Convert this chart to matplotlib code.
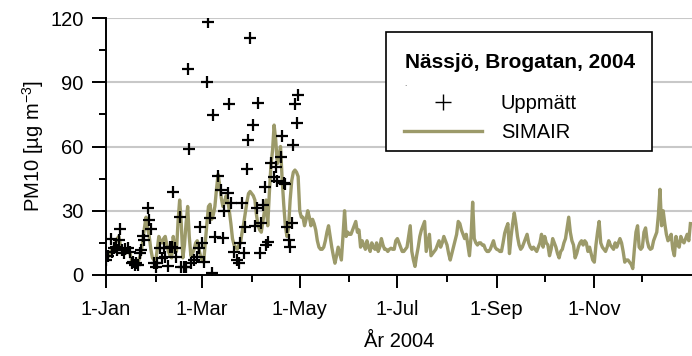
import matplotlib
matplotlib.use('Agg')
import matplotlib.pyplot as plt
from matplotlib.lines import Line2D
from matplotlib.patches import Rectangle
import pandas as pd

plt.rcParams['font.family'] = ['Liberation Sans', 'DejaVu Sans']
plt.rcParams['mathtext.fontset'] = 'custom'
plt.rcParams['mathtext.rm'] = 'Liberation Sans'
plt.rcParams['mathtext.it'] = 'Liberation Sans:italic'
plt.rcParams['mathtext.bf'] = 'Liberation Sans:bold'

# SIMAIR modelled daily PM10, 1 Jan - 31 Dec 2004
simair = [
    7, 8, 10, 11, 12, 13, 15, 17, 18, 14,
    12, 10, 10, 12, 12.5, 10, 7, 6, 5.5, 6,
    6, 8, 11, 16, 22, 27, 22, 18, 12, 8,
    7, 6, 12, 18, 16, 15, 17, 18, 14, 11,
    9, 8, 18, 12, 11, 25, 35, 24, 8, 14,
    24, 32, 18, 9, 10, 12, 15, 16, 12, 9,
    7, 6, 15, 24, 32, 33, 26, 28, 32, 40,
    47, 42, 36, 32, 34, 37, 35, 30, 24, 17,
    14, 13, 12, 14, 15, 20, 24, 29, 34, 38,
    39, 38, 37, 35, 28, 23, 21, 20, 25, 30,
    35, 23, 38, 51, 58, 70, 63, 52, 55, 60,
    45, 33, 23, 18, 22, 35, 44, 48, 49, 48,
    46, 30, 27, 27, 23, 26, 30, 27, 23, 26,
    24, 21, 16, 13, 12, 12, 13, 16, 20, 23,
    18, 13, 9, 5.5, 9, 13, 10, 7, 18, 30,
    18, 20, 19, 19, 21, 23, 25, 20, 21, 13,
    16, 14, 12, 16, 13, 11, 15, 13, 12, 15,
    11, 13, 17, 14, 12, 12, 11, 12, 12.5, 12,
    12, 16, 17, 15, 13, 11, 11, 12, 13, 18,
    23, 11, 7, 4, 9, 13, 18, 21, 23, 25,
    11, 15, 19, 9, 10, 11, 12, 14, 16, 13,
    15, 18, 16, 14, 10, 7, 10, 13, 16, 19,
    25, 24, 21, 19, 17, 19, 14, 9, 18, 34,
    17, 15, 14, 15, 15, 14, 14, 12, 11, 11,
    12, 14, 16, 13, 12, 11.7, 11, 11, 15, 19.5,
    22, 24, 10, 18, 24, 29, 24, 18, 14, 12,
    13, 15, 17, 19, 15, 13, 12, 13, 12, 11,
    13, 15, 19, 13, 18, 15, 14, 9, 12, 17,
    15, 13, 10, 8, 11, 12, 15, 17, 22, 27,
    20, 16, 14, 8, 10, 13, 15, 16, 14, 16,
    15, 11, 13, 10, 7, 6, 14, 20, 25, 15,
    13, 12, 11, 13, 16, 14, 13, 12, 15, 13,
    15, 17, 15, 11, 6, 7, 7, 6, 5, 3,
    12, 20, 23, 13, 12, 13, 20, 22, 16, 13,
    12, 12.5, 16, 18, 20, 28, 40, 23, 30, 24,
    19, 16, 17, 19, 12, 9, 18, 14, 13, 18,
    16, 15, 17, 19, 16, 24,
]

# measured values (day of year, 0 = 1 Jan)
meas_day = [0, 1, 3, 4, 5, 6, 7, 8, 9, 10, 11, 12, 14, 15, 16, 17, 18, 19, 20, 21,
            22, 23, 24, 26, 27, 28, 30, 31, 32, 34, 35, 36, 37, 39, 40, 41, 42, 43, 44, 46,
            47, 49, 50, 51, 52, 53, 55, 57, 58, 59, 60, 61, 63, 64, 65, 66, 67, 68, 70, 72,
            73, 74, 76, 77, 78, 80, 82, 83, 84, 85, 86, 87, 88, 89, 90, 92, 93, 94, 95, 96,
            97, 98, 99, 100, 101, 103, 105, 106, 107, 109, 110, 111, 112, 113, 114, 115, 116, 117, 118, 119,
            120]
meas_val = [7, 8.9, 16.7, 10.9, 12.5, 13.2, 11.7, 16.3, 21.3, 11.7, 10.1, 12, 12.5, 10.9, 5.5, 6.2, 4.7, 5.5, 4.7, 10.1,
            11.7, 18.2, 16.3, 31.4, 25.7, 21.3, 5.5, 3.9, 5.5, 12.5, 7.8, 12.5, 8.3, 4.2, 13.2, 13.2, 38.9, 12.5, 8.5, 27.2,
            3.9, 3.9, 3.9, 96, 58.7, 5.5, 7, 8.5, 12.5, 22.5, 15, 6.2, 90, 118, 26.5, 1.1, 74.5, 17.9, 46, 39.7,
            17.1, 30, 38.4, 79.7, 33.5, 10.9, 7, 5.5, 14.8, 33.5, 10.1, 22.6, 49.4, 63, 110.5, 70, 22.9, 31.4, 80.5, 10.1,
            24.4, 32.7, 41.2, 14, 15.3, 52.4, 45.9, 50.3, 44, 55, 65, 43, 42.5, 22.6, 16.3, 13.2, 24.1, 60.7, 80, 71,
            84]

tick_months = [1, 3, 5, 7, 9, 11]
minor_months = [2, 4, 6, 8, 10, 12]
tick_labels = ['1-Jan', '1-Mar', '1-May', '1-Jul', '1-Sep', '1-Nov']
yticks = [0, 30, 60, 90, 120]
yminor = [15, 45, 75, 105]

start = pd.Timestamp('2004-01-01')
days = pd.date_range(start, periods=len(simair), freq='D')
meas_dates = start + pd.to_timedelta(meas_day, unit='D')

fig = plt.figure(figsize=(6.92, 3.56), dpi=100)
ax = fig.add_axes([106 / 692, 81 / 356, 586 / 692, 257 / 356])

ax.plot(days, simair, color='#9c9a6a', lw=2.4, zorder=2)
ax.plot(meas_dates, meas_val, ls='none', marker='+', ms=8.5, mew=1.6, color='black', zorder=3)

ax.set_xlim(start, pd.Timestamp('2005-01-01'))
ax.set_ylim(0, 120)
ax.set_xticks([pd.Timestamp(2004, m, 1) for m in tick_months])
ax.set_xticklabels(tick_labels)
ax.set_xticks([pd.Timestamp(2004, m, 1) for m in minor_months], minor=True)
ax.set_yticks(yticks)
ax.set_yticks(yminor, minor=True)

ax.grid(axis='y', which='major', color='#c8c8c8', lw=1.5)
ax.set_axisbelow(True)
for s in ['top', 'right']:
    ax.spines[s].set_visible(False)
for s in ['left', 'bottom']:
    ax.spines[s].set_linewidth(1.4)

ax.tick_params(axis='x', which='major', length=9.5, width=1.4, pad=8.5, labelsize=14.5)
ax.tick_params(axis='x', which='minor', length=5, width=1.4)
ax.tick_params(axis='y', which='major', length=10, width=1.4, pad=6, labelsize=14.5)
ax.tick_params(axis='y', which='minor', length=5, width=1.4)

ax.set_ylabel('PM10 [µg m$^{-3}$]', fontsize=14.5, labelpad=3)
ax.set_xlabel('År 2004', fontsize=14.5, labelpad=9.5)

# legend box
ax.add_patch(Rectangle((386 / 692, 1 - 151 / 356), 266 / 692, 119 / 356, transform=fig.transFigure,
                       facecolor='white', edgecolor='black', lw=1.2, zorder=4, clip_on=False))
ax.text(405 / 692, 1 - 63 / 356, 'Nässjö, Brogatan, 2004', transform=fig.transFigure,
        fontsize=15, fontweight='bold', ha='left', va='center', zorder=6)
ax.text(404 / 692, 1 - 84 / 356, '.', transform=fig.transFigure, fontsize=6, color='#444444',
        ha='left', va='center', zorder=6)
handles = [Line2D([], [], ls='none', marker='+', ms=11, mew=1.0, color='black'),
           Line2D([], [], color='#9c9a6a', lw=2.4)]
ax.legend(handles, ['Uppmätt', 'SIMAIR'], loc='upper left', bbox_to_anchor=(404 / 692, 1 - 94 / 356),
          bbox_transform=fig.transFigure, frameon=False, handlelength=3.87, handletextpad=0.93,
          labelspacing=0.5, borderpad=0, borderaxespad=0, fontsize=14.5)

plt.savefig('out.png', dpi=100)
plt.close()
